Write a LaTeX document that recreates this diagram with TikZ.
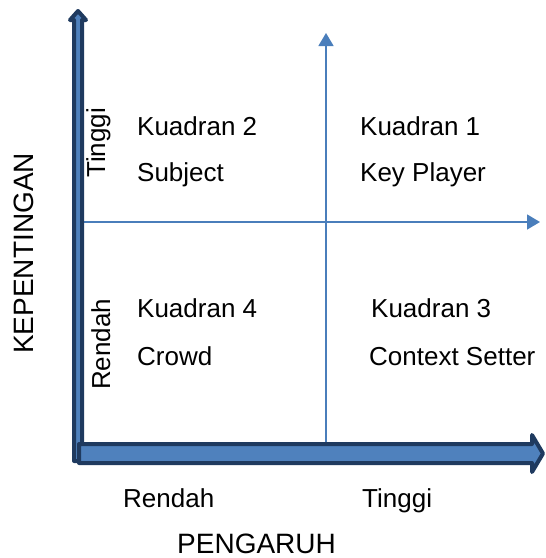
\documentclass[tikz,border=0pt]{standalone}
\usepackage{fontspec}
\setmainfont{Liberation Sans}
\usetikzlibrary{arrows.meta}
\definecolor{axisfill}{HTML}{4F81BD}
\definecolor{axisedge}{HTML}{1F3A5F}
\definecolor{gridline}{HTML}{4A7EBB}

\begin{document}
\begin{tikzpicture}[x=1pt,y=-1pt,
  lbl/.style={font=\fontsize{26}{30}\selectfont, inner sep=0pt, anchor=base west},
  title/.style={font=\fontsize{28}{32}\selectfont, inner sep=0pt, anchor=base west},
  bigarrow/.style={fill=axisfill, draw=axisedge, line width=4pt, line join=round},
  gridaxis/.style={draw=gridline, line width=1.5pt, -{Triangle[length=13pt,width=15pt]}}]
\useasboundingbox (0,0) rectangle (546,558);

% quadrant dividers
\coordinate (vbot) at (326,450);
\coordinate (vtop) at (326,33);
\coordinate (hleft) at (84,222);
\coordinate (hright) at (540,222);
\draw[gridaxis] (vbot) -- (vtop);
\draw[gridaxis] (hleft) -- (hright);

% thick vertical axis (importance)
\draw[bigarrow] (74,461) -- (74,20) -- (70,20) -- (78,11) -- (86,20) -- (82,20) -- (82,461) -- cycle;
% thick horizontal axis (influence)
\draw[bigarrow] (79,444) -- (532,444) -- (532,435) -- (543,453.5) -- (532,472) -- (532,463) -- (79,463) -- cycle;

% quadrant labels
\node[lbl] (k2) at (137,135) {Kuadran 2};
\node[lbl] (s2) at (137,181) {Subject};
\node[lbl] (k1) at (360,135) {Kuadran 1};
\node[lbl] (s1) at (360,181) {Key Player};
\node[lbl] (k4) at (137,317) {Kuadran 4};
\node[lbl] (s4) at (137,365) {Crowd};
\node[lbl] (k3) at (371,317) {Kuadran 3};
\node[lbl] (s3) at (369,365) {Context Setter};

% level labels on the vertical axis
\node[lbl, rotate=90] (vhigh) at (105,178) {Tinggi};
\node[lbl, rotate=90] (vlow) at (110,390) {Rendah};
% level labels on the horizontal axis
\node[lbl] (hlow) at (123,507) {Rendah};
\node[lbl] (hhigh) at (362,507) {Tinggi};

% axis titles
\node[title, rotate=90] (ytitle) at (33,354) {KEPENTINGAN};
\node[title] (xtitle) at (177,553) {PENGARUH};
\end{tikzpicture}
\end{document}
